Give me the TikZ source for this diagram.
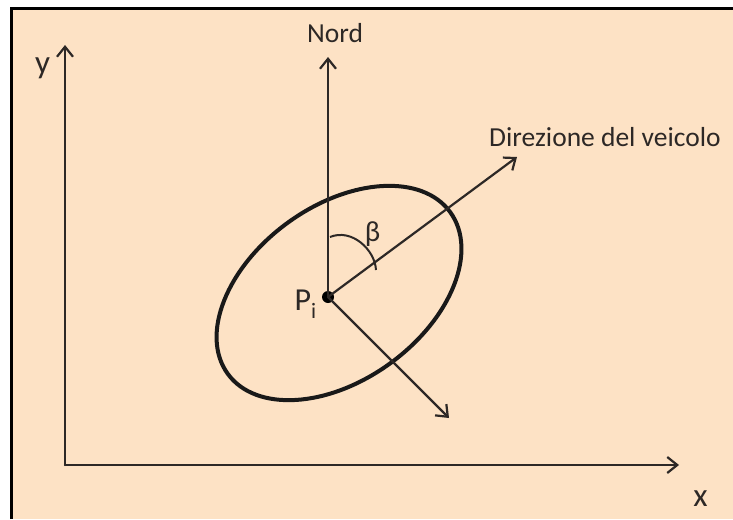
\documentclass[tikz,border=0pt]{standalone}
\usepackage{fontspec}
\setmainfont{Carlito}
\usetikzlibrary{arrows.meta}
\definecolor{bgpeach}{RGB}{253,226,197}
\definecolor{ink}{RGB}{45,40,38}
\begin{document}
\begin{tikzpicture}[x=1pt,y=-1pt,
  arr/.style={draw=ink,line width=2.2pt,line cap=round,-{Straight Barb[length=10pt,width=16pt]}},
  lbl/.style={text=ink,inner sep=0pt,font=\fontsize{27.5}{30}\selectfont},
  axlbl/.style={text=ink,inner sep=0pt,font=\fontsize{33}{36}\selectfont},
]
\useasboundingbox (0,0) rectangle (733,519);
\fill[white] (0,0) rectangle (733,519);
\fill[bgpeach] (11,8.5) rectangle (733,519);
\draw[line width=3pt] (11,519) -- (11,8.5) -- (733,8.5);

% coordinates
\coordinate (O) at (65,465);
\coordinate (ytip) at (65,45);
\coordinate (xtip) at (679,465);
\coordinate (nordtip) at (328,57);
\coordinate (dirtip) at (517,157);
\coordinate (lowtip) at (449,418);

% ellipse
\draw[line width=4pt,black!90] (339,293) ellipse [x radius=137.5, y radius=87, rotate=36];

% axes
\draw[arr] (O) -- (xtip);
\draw[arr] (O) -- (ytip);

% point
\node[circle,fill=black,inner sep=0pt,minimum size=12pt] (P) at (328,297) {};

% arrows from P
\draw[arr] (P.center) -- (nordtip);
\draw[arr] (P.center) -- (dirtip);
\draw[arr] (P.center) -- (lowtip);

% angle beta
\draw[draw=ink,line width=2pt] (330,237) .. controls (352,228) and (375,250) .. (376,270);

% labels
\node[lbl,anchor=base] (nordlbl) at (335,42.7) {Nord};
\node[lbl,anchor=base west] (dirlbl) at (489,146) {Direzione del veicolo};
\node[axlbl,anchor=base] (ylbl) at (42.5,73.3) {y};
\node[axlbl,anchor=base] (xlbl) at (700.5,506) {x};
\node[lbl,anchor=base,font=\fontsize{29}{30}\selectfont] (betalbl) at (372.5,241) {β};
\node[lbl,anchor=base west,font=\fontsize{32}{34}\selectfont] (Plbl) at (294.5,310) {P\raisebox{-8pt}{\fontsize{22}{22}\selectfont i}};
\end{tikzpicture}
\end{document}
